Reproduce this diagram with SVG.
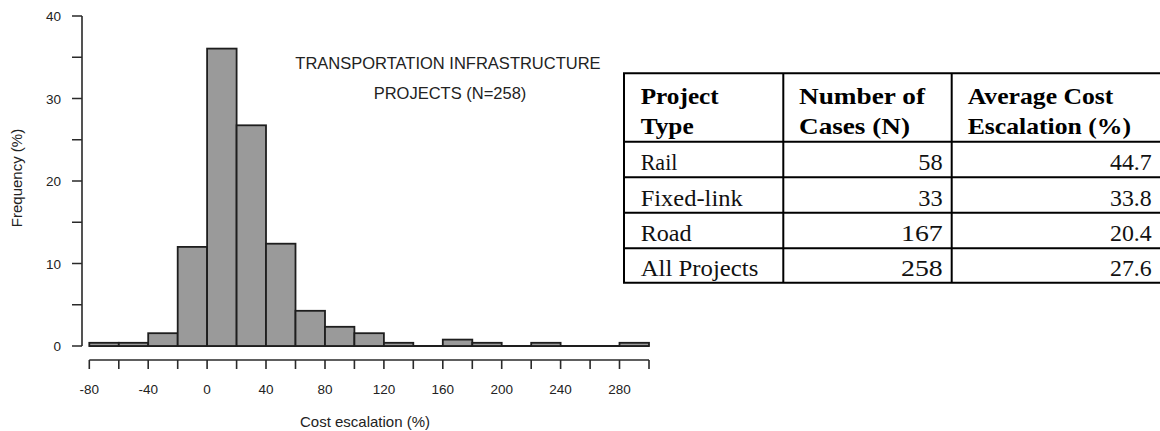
<svg xmlns="http://www.w3.org/2000/svg" width="1160" height="431" viewBox="0 0 1160 431">
<style>
  .bar{fill:#9a9a9a;stroke:#1e1e1e;stroke-width:1.8}
  .ax{stroke:#2a2a2a;stroke-width:1.6;fill:none}
  .tk{font-family:"Liberation Sans",Arial,sans-serif;font-size:13.5px;fill:#222}
  .lab{font-family:"Liberation Sans",Arial,sans-serif;font-size:15px;fill:#222}
  .ttl{font-family:"Liberation Sans",Arial,sans-serif;font-size:16.5px;fill:#222;text-anchor:middle}
  .grid{stroke:#000;stroke-width:2;fill:none}
  .th{font-family:"Liberation Serif","Times New Roman",serif;font-size:23px;font-weight:bold;fill:#000}
  .td{font-family:"Liberation Serif","Times New Roman",serif;font-size:23px;fill:#111}
</style>
<rect width="1160" height="431" fill="#fff"/>

<g id="histogram">
  <line class="bar" x1="89.3" y1="346" x2="649" y2="346"/>
  <rect class="bar" x="89.3" y="342.8" width="29.5" height="3.2"/>
  <rect class="bar" x="118.8" y="342.8" width="29.4" height="3.2"/>
  <rect class="bar" x="148.2" y="333.2" width="29.5" height="12.8"/>
  <rect class="bar" x="177.7" y="246.9" width="29.4" height="99.1"/>
  <rect class="bar" x="207.1" y="48.6" width="29.5" height="297.4"/>
  <rect class="bar" x="236.6" y="125.3" width="29.4" height="220.7"/>
  <rect class="bar" x="266.0" y="243.7" width="29.5" height="102.3"/>
  <rect class="bar" x="295.5" y="310.8" width="29.5" height="35.2"/>
  <rect class="bar" x="325.0" y="326.8" width="29.4" height="19.2"/>
  <rect class="bar" x="354.4" y="333.2" width="29.5" height="12.8"/>
  <rect class="bar" x="383.9" y="342.8" width="29.4" height="3.2"/>
  <rect class="bar" x="442.8" y="339.6" width="29.5" height="6.4"/>
  <rect class="bar" x="472.3" y="342.8" width="29.4" height="3.2"/>
  <rect class="bar" x="531.2" y="342.8" width="29.4" height="3.2"/>
  <rect class="bar" x="619.5" y="342.8" width="29.5" height="3.2"/>
</g>

<g id="y-axis">
  <path class="ax" d="M82,16V346 M72,346H82 M72,304.7H82 M72,263.5H82 M72,222.2H82 M72,181H82 M72,139.7H82 M72,98.5H82 M72,57.2H82 M72,16H82"/>
  <g class="tk" text-anchor="end">
    <text x="61" y="351">0</text>
    <text x="61" y="268.5">10</text>
    <text x="61" y="186">20</text>
    <text x="61" y="103.5">30</text>
    <text x="61" y="21">40</text>
  </g>
  <text class="lab" transform="translate(22,178) rotate(-90)" text-anchor="middle">Frequency (%)</text>
</g>

<g id="x-axis">
  <path class="ax" d="M89.3,360H649 M89.3,360V369 M118.8,360V369 M148.2,360V369 M177.7,360V369 M207.1,360V369 M236.6,360V369 M266,360V369 M295.5,360V369 M325,360V369 M354.4,360V369 M383.9,360V369 M413.3,360V369 M442.8,360V369 M472.3,360V369 M501.7,360V369 M531.2,360V369 M560.6,360V369 M590.1,360V369 M619.5,360V369 M649,360V369"/>
  <g class="tk" text-anchor="middle">
    <text x="89.3" y="394">-80</text>
    <text x="148.2" y="394">-40</text>
    <text x="207.1" y="394">0</text>
    <text x="266" y="394">40</text>
    <text x="325" y="394">80</text>
    <text x="383.9" y="394">120</text>
    <text x="442.8" y="394">160</text>
    <text x="501.7" y="394">200</text>
    <text x="560.6" y="394">240</text>
    <text x="619.5" y="394">280</text>
  </g>
  <text class="lab" x="365" y="427" text-anchor="middle">Cost escalation (%)</text>
</g>

<g id="title">
  <text class="ttl" x="448" y="68.5">TRANSPORTATION INFRASTRUCTURE</text>
  <text class="ttl" x="450" y="98.5">PROJECTS (N=258)</text>
</g>

<g id="table">
  <path class="grid" d="M624,73.3H1162 M624,141.7H1162 M624,177.3H1162 M624,212.7H1162 M624,248.3H1162 M624,282.7H1162 M624,72.3V283.7 M783.3,72.3V283.7 M951.7,72.3V283.7"/>
  <g class="th">
    <text x="640.7" y="103.5" textLength="78" lengthAdjust="spacingAndGlyphs">Project</text>
    <text x="640.7" y="134" textLength="53" lengthAdjust="spacingAndGlyphs">Type</text>
    <text x="799" y="103.5" textLength="126" lengthAdjust="spacingAndGlyphs">Number of</text>
    <text x="799" y="134" textLength="111" lengthAdjust="spacingAndGlyphs">Cases (N)</text>
    <text x="967.7" y="103.5" textLength="145.7" lengthAdjust="spacingAndGlyphs">Average Cost</text>
    <text x="967.7" y="134" textLength="163.3" lengthAdjust="spacingAndGlyphs">Escalation (%)</text>
  </g>
  <g class="td">
    <text x="640.7" y="170" textLength="36.7" lengthAdjust="spacingAndGlyphs">Rail</text>
    <text x="640.7" y="205.5" textLength="102" lengthAdjust="spacingAndGlyphs">Fixed-link</text>
    <text x="640.7" y="241" textLength="51" lengthAdjust="spacingAndGlyphs">Road</text>
    <text x="640.7" y="276" textLength="117.6" lengthAdjust="spacingAndGlyphs">All Projects</text>
    <text x="918.3" y="170" textLength="24.4" lengthAdjust="spacingAndGlyphs">58</text>
    <text x="918.3" y="205.5" textLength="24.4" lengthAdjust="spacingAndGlyphs">33</text>
    <text x="901" y="241" textLength="41.7" lengthAdjust="spacingAndGlyphs">167</text>
    <text x="901" y="276" textLength="41.7" lengthAdjust="spacingAndGlyphs">258</text>
    <text x="1110" y="170" textLength="41.7" lengthAdjust="spacingAndGlyphs">44.7</text>
    <text x="1110" y="205.5" textLength="41.7" lengthAdjust="spacingAndGlyphs">33.8</text>
    <text x="1110" y="241" textLength="41.7" lengthAdjust="spacingAndGlyphs">20.4</text>
    <text x="1110" y="276" textLength="41.7" lengthAdjust="spacingAndGlyphs">27.6</text>
  </g>
</g>
</svg>
